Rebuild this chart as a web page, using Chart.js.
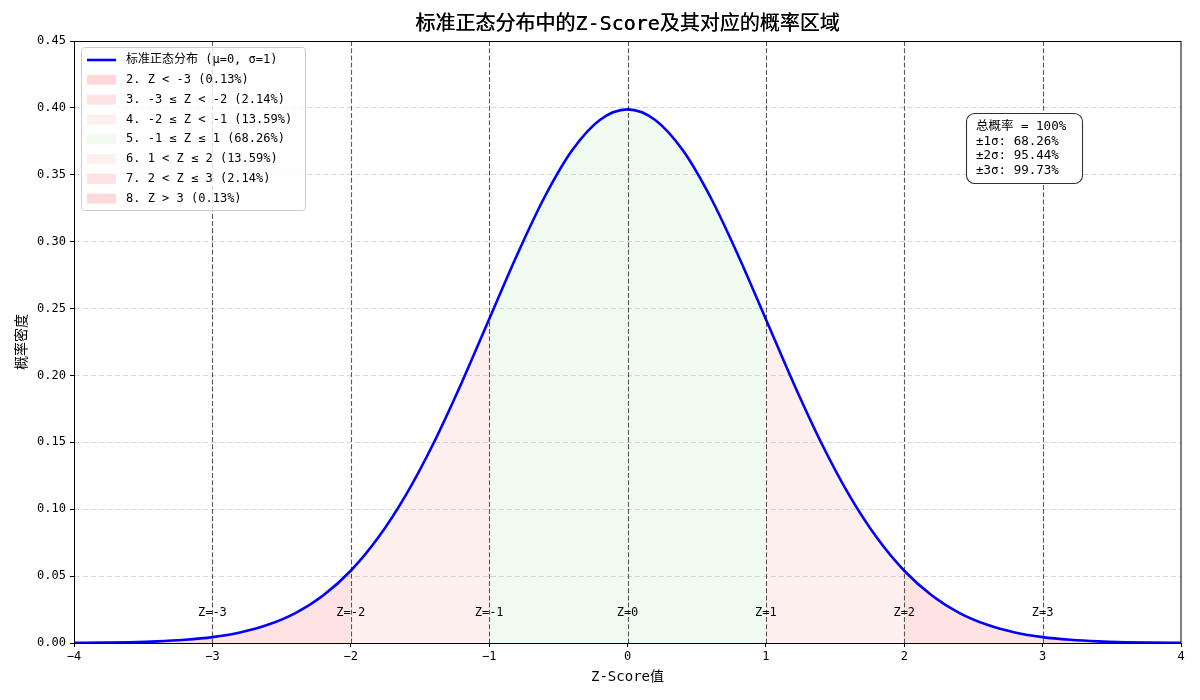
<!DOCTYPE html>
<html>
<head>
<meta charset="utf-8">
<script src="https://cdn.jsdelivr.net/npm/chart.js@4.4.1/dist/chart.umd.min.js"></script>
<style>
html,body{margin:0;padding:0;background:#fff;}
#wrap{width:1200px;height:700px;}
</style>
</head>
<body>
<div id="wrap"><canvas id="c" width="1200" height="700"></canvas></div>
<script>
// ---- data ----
const zValues = [-4.0,-3.8,-3.6,-3.4,-3.2,-3.0,-2.8,-2.6,-2.4,-2.2,-2.0,-1.8,-1.6,-1.4,-1.2,-1.0,-0.8,-0.6,-0.4,-0.2,0.0,
                 0.2,0.4,0.6,0.8,1.0,1.2,1.4,1.6,1.8,2.0,2.2,2.4,2.6,2.8,3.0,3.2,3.4,3.6,3.8,4.0];
const density = [0.0001,0.0003,0.0006,0.0012,0.0024,0.0044,0.0079,0.0136,0.0224,0.0355,0.0540,0.0790,0.1109,0.1497,0.1942,0.2420,0.2897,0.3332,0.3683,0.3910,0.3989,
                 0.3910,0.3683,0.3332,0.2897,0.2420,0.1942,0.1497,0.1109,0.0790,0.0540,0.0355,0.0224,0.0136,0.0079,0.0044,0.0024,0.0012,0.0006,0.0003,0.0001];
const curveLabel = '标准正态分布 (μ=0, σ=1)';
const regionLabels = ['2. Z < -3 (0.13%)','3. -3 ≤ Z < -2 (2.14%)','4. -2 ≤ Z < -1 (13.59%)','5. -1 ≤ Z ≤ 1 (68.26%)',
                      '6. 1 < Z ≤ 2 (13.59%)','7. 2 < Z ≤ 3 (2.14%)','8. Z > 3 (0.13%)'];
const regionFrom = [-4,-3,-2,-1,1,2,3];
const regionTo   = [-3,-2,-1, 1,2,3,4];
const regionColors = ['rgba(255,0,0,0.15)','rgba(255,0,0,0.11)','rgba(255,0,0,0.06)','rgba(0,210,0,0.06)',
                      'rgba(255,0,0,0.06)','rgba(255,0,0,0.11)','rgba(255,0,0,0.15)'];
const zLines = [-3,-2,-1,0,1,2,3];
const zLineLabels = ['Z=-3','Z=-2','Z=-1','Z=0','Z=1','Z=2','Z=3'];
const zLabelY = 0.02;
const xTicks = [-4,-3,-2,-1,0,1,2,3,4];
const xTickLabels = ['−4','−3','−2','−1','0','1','2','3','4'];
const summaryLines = ['总概率 = 100%','±1σ: 68.26%','±2σ: 95.44%','±3σ: 99.73%'];
const titleText = '标准正态分布中的Z-Score及其对应的概率区域';
const xTitle = 'Z-Score值';
const yTitle = '概率密度';

const FONT = '"DejaVu Sans Mono","Noto Sans CJK SC",monospace';

// ---- build datasets ----
const curvePts = zValues.map((z,i)=>({x:z,y:density[i]}));
const datasets = [];
regionLabels.forEach((lab,k)=>{
  const pts = curvePts.filter(p=>p.x>=regionFrom[k]-1e-9 && p.x<=regionTo[k]+1e-9);
  datasets.push({
    label: lab, data: pts, fill: 'origin', backgroundColor: regionColors[k],
    borderWidth: 0, pointRadius: 0, cubicInterpolationMode: 'monotone', order: 2
  });
});
datasets.push({
  label: curveLabel, data: curvePts, borderColor: '#0000ff', borderWidth: 2.6, fill: false,
  pointRadius: 0, cubicInterpolationMode: 'monotone', order: 1
});

const decor = {
  id: 'decor',
  afterDatasetsDraw(chart){
    const ctx = chart.ctx, a = chart.chartArea, xs = chart.scales.x, ys = chart.scales.y;
    ctx.save();
    ctx.strokeStyle = 'rgba(0,0,0,0.65)';
    ctx.lineWidth = 1.1;
    ctx.setLineDash([5,2.2]);
    zLines.forEach(z=>{
      const px = Math.round(xs.getPixelForValue(z))+0.5;
      ctx.beginPath(); ctx.moveTo(px,a.top); ctx.lineTo(px,a.bottom); ctx.stroke();
    });
    ctx.setLineDash([]);
    ctx.fillStyle = '#000';
    ctx.font = '12px '+FONT;
    ctx.textAlign = 'center'; ctx.textBaseline = 'alphabetic';
    zLines.forEach((z,i)=>{
      ctx.fillText(zLineLabels[i], xs.getPixelForValue(z), ys.getPixelForValue(zLabelY));
    });
    ctx.restore();
  },
  afterDraw(chart){
    const ctx = chart.ctx, a = chart.chartArea;
    ctx.save();
    ctx.strokeStyle = '#000'; ctx.lineWidth = 1;
    ctx.strokeRect(Math.round(a.left)+0.5, Math.round(a.top)+0.5, Math.round(a.right-a.left)-1+0.5, Math.round(a.bottom-a.top));
    ctx.fillStyle = '#000';
    ctx.textAlign = 'center'; ctx.textBaseline = 'middle';
    ctx.font = '20px '+FONT;
    ctx.fillText(titleText, (a.left+a.right)/2, 25);
    ctx.fillText(titleText, (a.left+a.right)/2+0.4, 25);
    ctx.font = '14px '+FONT;
    ctx.fillText(xTitle, (a.left+a.right)/2, 677);
    ctx.save();
    ctx.translate(22,(a.top+a.bottom)/2); ctx.rotate(-Math.PI/2);
    ctx.font = '14px '+FONT;
    ctx.fillText(yTitle,0,0);
    ctx.restore();

    // legend
    const lx = a.left+7, ly = a.top+6, lw = 224, lh = 163;
    ctx.fillStyle = 'rgba(255,255,255,0.8)';
    ctx.strokeStyle = '#cccccc'; ctx.lineWidth = 1;
    ctx.beginPath(); ctx.roundRect(lx+0.5,ly+0.5,lw,lh,3); ctx.fill(); ctx.stroke();
    const items = [{label:curveLabel,line:true}].concat(regionLabels.map((l,k)=>({label:l,color:regionColors[k]})));
    ctx.font = '12px '+FONT; ctx.textAlign='left'; ctx.textBaseline='middle';
    items.forEach((it,i)=>{
      const cy = ly+13+i*19.8;
      if(it.line){
        ctx.strokeStyle='#0000ff'; ctx.lineWidth=2.6;
        ctx.beginPath(); ctx.moveTo(lx+6,cy); ctx.lineTo(lx+35,cy); ctx.stroke();
      } else {
        ctx.fillStyle = it.color;
        ctx.fillRect(lx+6,cy-5,29,10);
      }
      ctx.fillStyle='#000';
      ctx.fillText(it.label, lx+45, cy);
    });

    // summary box
    const bx = 966, by = 113, bw = 116, bh = 70;
    ctx.fillStyle='#fff'; ctx.strokeStyle='#333'; ctx.lineWidth=1.1;
    ctx.beginPath(); ctx.roundRect(bx+0.5,by+0.5,bw,bh,8); ctx.fill(); ctx.stroke();
    ctx.fillStyle='#000'; ctx.font='12.5px '+FONT; ctx.textAlign='left'; ctx.textBaseline='middle';
    summaryLines.forEach((s,i)=>ctx.fillText(s, bx+10, by+14+i*14.5));
    ctx.restore();
  }
};

new Chart(document.getElementById('c'), {
  type: 'line',
  data: { datasets },
  options: {
    responsive: false, animation: false, devicePixelRatio: 1,
    layout: { padding: { top: 41, right: 19, left: 0, bottom: 0 } },
    plugins: { legend: { display: false }, title: { display: false }, tooltip: { enabled: false } },
    scales: {
      x: {
        type: 'linear', min: -4, max: 4,
        afterBuildTicks(s){ s.ticks = xTicks.map(v=>({value:v})); },
        ticks: { color:'#000', font:{ size:12, family:FONT }, padding: 3, maxRotation:0,
                 callback(v){ const i = xTicks.indexOf(v); return i>=0 ? xTickLabels[i] : ''; } },
        grid: { drawOnChartArea:false, tickLength:4, tickColor:'#000', tickWidth:1 },
        border: { color:'#000', width:1 },
        afterFit(s){ s.height = 57; }
      },
      y: {
        min: 0, max: 0.45,
        ticks: { stepSize: 0.05, color:'#000', font:{ size:12, family:FONT }, padding: 4,
                 callback(v){ return (+v).toFixed(2); } },
        grid: { color:'rgba(0,0,0,0.15)', tickLength:4, tickColor:'#000', tickWidth:1, tickBorderDash:[] },
        border: { color:'#000', width:1, dash:[5,3] },
        afterFit(s){ s.width = 74; }
      }
    }
  },
  plugins: [decor]
});
</script>
</body>
</html>
